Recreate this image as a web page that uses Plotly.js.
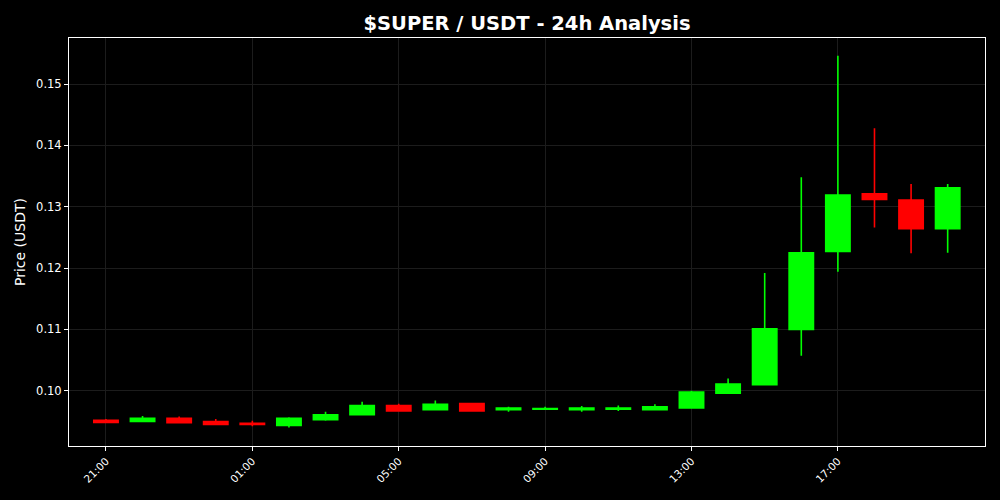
<!DOCTYPE html>
<html><head><meta charset="utf-8">
<script src="https://cdn.plot.ly/plotly-3.0.1.min.js"></script>
<style>html,body{margin:0;padding:0;background:#000;}#chart{width:1000px;height:500px;}</style>
</head><body><div id="chart"></div>
<script>
const times = ['2024-01-01 21:00','2024-01-01 22:00','2024-01-01 23:00','2024-01-02 00:00','2024-01-02 01:00','2024-01-02 02:00',
  '2024-01-02 03:00','2024-01-02 04:00','2024-01-02 05:00','2024-01-02 06:00','2024-01-02 07:00','2024-01-02 08:00',
  '2024-01-02 09:00','2024-01-02 10:00','2024-01-02 11:00','2024-01-02 12:00','2024-01-02 13:00','2024-01-02 14:00',
  '2024-01-02 15:00','2024-01-02 16:00','2024-01-02 17:00','2024-01-02 18:00','2024-01-02 19:00','2024-01-02 20:00'];
const openP  = [0.0952,0.0950,0.0955,0.0950,0.0947,0.09435,0.0953,0.0961,0.0976,0.0969,0.0979,0.0969,0.0970,0.0969,0.0970,0.0969,0.0972,0.0996,0.1010,0.1100,0.1227,0.1321,0.1311,0.1264];
const highP  = [0.0954,0.0959,0.0958,0.0954,0.0951,0.0957,0.0966,0.0982,0.0979,0.0984,0.0980,0.0974,0.0974,0.0975,0.0976,0.0978,0.1000,0.1020,0.1192,0.1348,0.1546,0.1428,0.1337,0.1337];
const lowP   = [0.0948,0.0950,0.0948,0.0945,0.0942,0.0940,0.0951,0.0961,0.0966,0.0969,0.0967,0.0966,0.0970,0.0966,0.0967,0.0969,0.0972,0.0996,0.1010,0.1057,0.1194,0.1266,0.1224,0.1225];
const closeP = [0.09485,0.0955,0.0948,0.0945,0.0945,0.0955,0.0961,0.0976,0.0967,0.0978,0.0967,0.0972,0.0971,0.0972,0.0972,0.0974,0.0998,0.1011,0.1101,0.1225,0.1319,0.1312,0.1264,0.1331];
const tickVals = ['2024-01-01 21:00','2024-01-02 01:00','2024-01-02 05:00','2024-01-02 09:00','2024-01-02 13:00','2024-01-02 17:00'];
const tickText = ['21:00','01:00','05:00','09:00','13:00','17:00'];
const yTicks = [0.10,0.11,0.12,0.13,0.14,0.15];

const trace = {
  type:'candlestick', x:times, open:openP, high:highP, low:lowP, close:closeP,
  increasing:{line:{color:'#00ff00',width:1.6}, fillcolor:'#00ff00'},
  decreasing:{line:{color:'#ff0000',width:1.6}, fillcolor:'#ff0000'},
  whiskerwidth:0, hoverinfo:'none'
};
const layout = {
  width:1000, height:500,
  paper_bgcolor:'#000', plot_bgcolor:'#000',
  font:{family:'DejaVu Sans, sans-serif', color:'#fff', size:11},
  margin:{l:69, r:15, t:38, b:54},
  showlegend:false,
  boxgap:0.05,
  title:{text:'<b>$SUPER / USDT - 24h Analysis</b>', x:0.527, xanchor:'center', y:0.953, yanchor:'middle', font:{size:19.5, color:'#fff'}},
  xaxis:{type:'date', range:['2024-01-01 19:59:24','2024-01-02 21:01:12'],
    rangeslider:{visible:false}, tickvals:tickVals, ticktext:tickText, tickangle:-45,
    tickfont:{size:10.5,color:'#fff'}, ticks:'outside', ticklen:4, tickcolor:'#fff',
    showgrid:true, gridcolor:'#1c1c1c', gridwidth:1,
    showline:true, linecolor:'#fff', linewidth:1, mirror:true, zeroline:false},
  yaxis:{range:[0.0910,0.1575], tickvals:yTicks, tickformat:'.2f',
    tickfont:{size:11.5,color:'#fff'}, ticks:'outside', ticklen:4, tickcolor:'#fff',
    title:{text:'Price (USDT)', font:{size:14,color:'#fff'}, standoff:7},
    showgrid:true, gridcolor:'#1c1c1c', gridwidth:1,
    showline:true, linecolor:'#fff', linewidth:1, mirror:true, zeroline:false}
};
Plotly.newPlot('chart',[trace],layout,{staticPlot:true});
</script></body></html>
